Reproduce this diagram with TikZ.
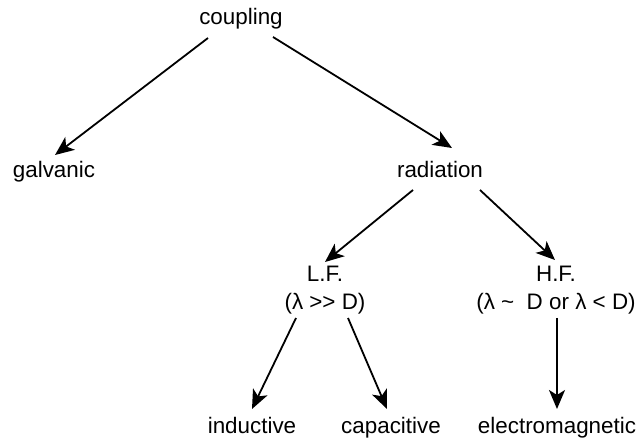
\documentclass[tikz,border=0pt]{standalone}
\usepackage{fontspec}
\setmainfont{Liberation Sans}
\usetikzlibrary{arrows.meta}
\begin{document}
\begin{tikzpicture}[x=1pt,y=-1pt,
  lbl/.style={inner sep=0pt,font=\fontsize{22.4}{28}\selectfont},
  two/.style={lbl,align=center},
  arr/.style={line width=1.8pt,-{Stealth[length=19pt,width=16pt,inset=5pt]}}]
\path[use as bounding box,fill=white] (0,0) rectangle (637,443);
\node[lbl,anchor=base] (coupling) at (241,25) {coupling};
\node[lbl,anchor=base] (galvanic) at (54,178) {galvanic};
\node[lbl,anchor=base] (radiation) at (440,178) {radiation};
\node[two] (lf) at (325,290) {L.F.\\(λ >{}> D)};
\node[two] (hf) at (556,290) {H.F.\\(λ \textasciitilde\ \ D or λ < D)};
\node[lbl,anchor=base] (inductive) at (252,433) {inductive};
\node[lbl,anchor=base] (capacitive) at (391,433) {capacitive};
\node[lbl,anchor=base] (em) at (557,433) {electromagnetic};
\draw[arr] ([shift={(-33,13)}]coupling.base) -- ([shift={(1,-23)}]galvanic.base);
\draw[arr] ([shift={(32,12)}]coupling.base) -- ([shift={(12,-30)}]radiation.base);
\draw[arr] ([shift={(-27,12)}]radiation.base) -- ([shift={(0,-28)}]lf.center);
\draw[arr] ([shift={(40,12)}]radiation.base) -- ([shift={(-1,-30)}]hf.center);
\draw[arr] ([shift={(-29,28)}]lf.center) -- ([shift={(0,-24)}]inductive.base);
\draw[arr] ([shift={(23,28)}]lf.center) -- ([shift={(-4,-24)}]capacitive.base);
\draw[arr] ([shift={(1,28)}]hf.center) -- ([shift={(0,-24)}]em.base);
\end{tikzpicture}
\end{document}
